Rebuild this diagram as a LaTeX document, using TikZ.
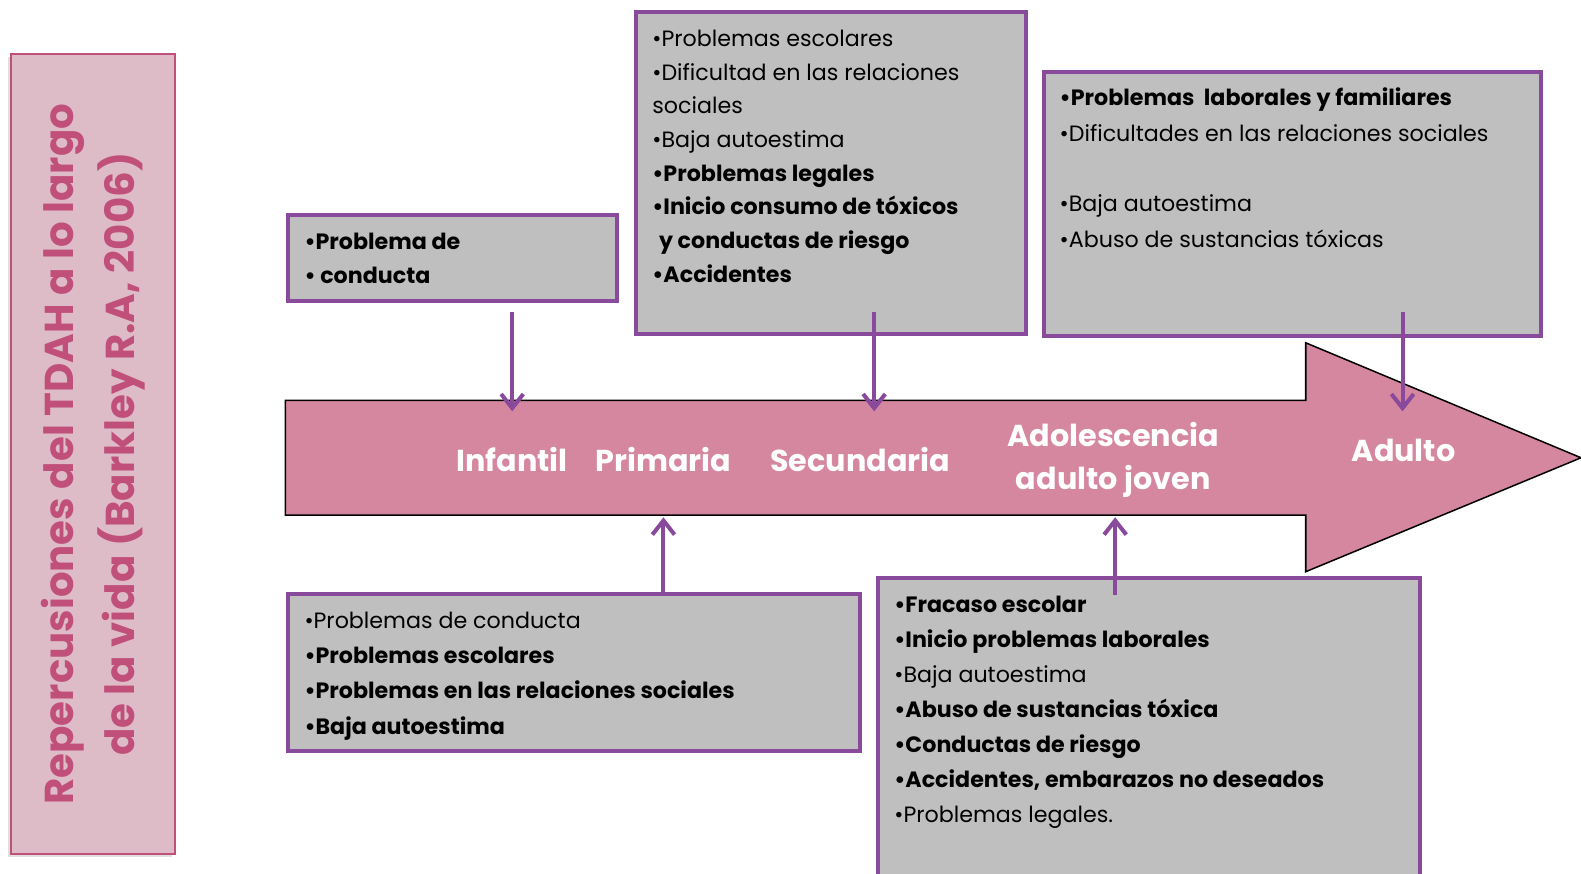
\documentclass[tikz,border=0pt]{standalone}
\usepackage{fontspec}
\setmainfont{Poppins}
\usetikzlibrary{arrows.meta}
\usetikzlibrary{shadows}

\definecolor{boxpurple}{RGB}{137,74,155}
\definecolor{boxgrey}{RGB}{191,191,191}
\definecolor{arrowpink}{RGB}{214,135,160}
\definecolor{titlefill}{RGB}{222,188,199}
\definecolor{titlepink}{RGB}{192,80,122}

% text block of a grey box: width, height, line distance, lines
\newcommand{\infotext}[4]{\begin{minipage}[c][#2][t]{#1}\raggedright
    \fontsize{22pt}{#3}\selectfont\rule{0pt}{34pt}#4\end{minipage}}

\begin{document}
\begin{tikzpicture}[x=1pt,y=-1pt,
        titlebox/.style={rectangle,draw=titlepink,line width=2pt,fill=titlefill,text=titlepink,align=center,
            font=\bfseries\fontsize{40pt}{60pt}\selectfont},
        infobox/.style={rectangle,draw=boxpurple,line width=4pt,fill=boxgrey,anchor=north west,
            inner xsep=16pt,inner ysep=0pt},
        stage/.style={text=white,align=center,font=\bfseries\fontsize{30pt}{43pt}\selectfont},
        conn/.style={draw=boxpurple,line width=4pt,-{Straight Barb[length=14pt,width=22pt]}}
        ]
        \useasboundingbox (0,0) rectangle (1568,866);
        \node (title) [titlebox,rotate=90,minimum width=793pt,minimum height=163pt,
            drop shadow={shadow xshift=-3pt,shadow yshift=-3pt,opacity=0.25}] at (92.5,450.5)
            {Repercusiones del TDAH a lo largo\\ de la vida (Barkley R.A, 2006)};

        % the time line
        \draw[fill=arrowpink,line width=1.5pt] (283,397) -- (1295,397) -- (1295,340) -- (1568,454)
            -- (1295,567) -- (1295,511) -- (283,511) -- cycle;
        \node (infantil) [stage] at (508,456) {Infantil};
        \node (primaria) [stage] at (658,456) {Primaria};
        \node (secundaria) [stage] at (853,456) {Secundaria};
        \node (adolescencia) [stage] at (1104,456) {Adolescencia\\ adulto joven};
        \node (adulto) [stage] at (1392,447) {Adulto};

        % boxes above
        \node (conducta) [infobox,minimum width=326pt,minimum height=86pt] at (284,211)
            {\infotext{294pt}{86pt}{34pt}{\textbf{•Problema de}\\ \textbf{• conducta}}};
        \node (secbox) [infobox,minimum width=387pt,minimum height=319pt] at (629,10)
            {\infotext{355pt}{319pt}{33.4pt}{•Problemas escolares\\ •Dificultad en las relaciones\\ sociales\\
            •Baja autoestima\\ \textbf{•Problemas legales}\\ \textbf{•Inicio consumo de tóxicos}\\
            \textbf{\hspace*{0.3em}y conductas de riesgo}\\ \textbf{•Accidentes}}};
        \node (adubox) [infobox,minimum width=493pt,minimum height=262pt] at (1033,69)
            {\infotext{461pt}{262pt}{35pt}{\textbf{•Problemas\ \ laborales y familiares}\\
            •Dificultades en las relaciones sociales\\ \mbox{}\\ •Baja autoestima\\
            •Abuso de sustancias tóxicas}};

        % boxes below
        \node (pribox) [infobox,minimum width=567pt,minimum height=156pt] at (284,587)
            {\infotext{535pt}{156pt}{35pt}{•Problemas de conducta\\ \textbf{•Problemas escolares}\\
            \textbf{•Problemas en las relaciones sociales}\\ \textbf{•Baja autoestima}}};
        \node (adobox) [infobox,minimum width=537pt,minimum height=330pt] at (869,571)
            {\infotext{505pt}{330pt}{34.8pt}{\textbf{•Fracaso escolar}\\ \textbf{•Inicio problemas laborales}\\
            •Baja autoestima\\ \textbf{•Abuso de sustancias tóxica}\\ \textbf{•Conductas de riesgo}\\
            \textbf{•Accidentes, embarazos no deseados}\\ •Problemas legales.}};

        % connectors
        \coordinate (infA) at (508,309);
        \coordinate (infB) at (508,408);
        \coordinate (secA) at (867,309);
        \coordinate (secB) at (867,408);
        \coordinate (aduA) at (1391,309);
        \coordinate (aduB) at (1391,408);
        \coordinate (priB) at (658,513);
        \coordinate (adoA) at (1106,590);
        \coordinate (adoB) at (1106,513);
        \draw[conn] (infA) -- (infB);
        \draw[conn] (secA) -- (secB);
        \draw[conn] (aduA) -- (aduB);
        \draw[conn] (pribox.north -| priB) -- (priB);
        \draw[conn] (adoA) -- (adoB);
\end{tikzpicture}
\end{document}
